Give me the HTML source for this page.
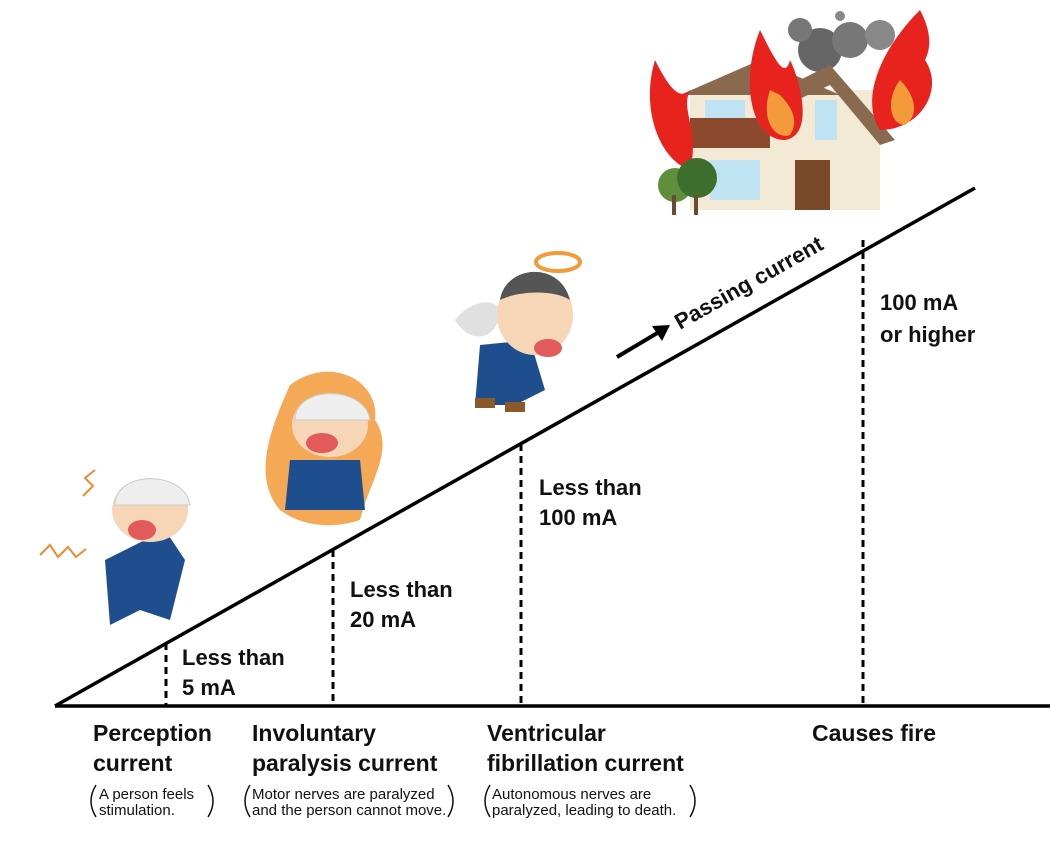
<!DOCTYPE html>
<html><head><meta charset="utf-8"><style>
body{margin:0;background:#fff;}
svg{display:block;font-family:"Liberation Sans",Arial,sans-serif;}
.l{font-size:22px;fill:#111;font-weight:bold;}
.b{font-size:23px;fill:#111;font-weight:bold;}
.s{font-size:15px;fill:#111;}
</style></head><body>
<svg width="1050" height="850" viewBox="0 0 1050 850">
<!-- house -->
<g>
<circle cx="820" cy="50" r="22" fill="#666"/><circle cx="850" cy="40" r="18" fill="#777"/><circle cx="880" cy="35" r="15" fill="#888"/><circle cx="800" cy="30" r="12" fill="#777"/><circle cx="840" cy="16" r="5" fill="#888"/>
<rect x="690" y="90" width="190" height="120" fill="#f3ead6"/>
<polygon points="680,95 760,60 840,95" fill="#8a6a4f"/>
<polygon points="760,100 830,65 895,140 880,145 830,85 775,110" fill="#8a6a4f"/>
<rect x="690" y="118" width="80" height="30" fill="#8b4a2e"/>
<rect x="705" y="100" width="40" height="18" fill="#bfe3f2"/>
<rect x="710" y="160" width="50" height="40" fill="#bfe3f2"/>
<rect x="795" y="160" width="35" height="50" fill="#7a4a2a"/>
<rect x="815" y="100" width="22" height="40" fill="#bfe3f2"/>
<path d="M655,60 C640,110 660,160 690,170 C700,130 680,110 690,90 C680,100 670,90 655,60Z" fill="#e8231e"/>
<path d="M760,30 C740,80 750,140 785,140 C815,135 800,80 790,60 C785,80 775,60 760,30Z" fill="#e8231e"/>
<path d="M770,90 C760,120 775,140 790,135 C800,120 790,105 780,95Z" fill="#f39a3a"/>
<path d="M920,10 C880,50 860,100 880,130 C920,130 945,90 925,60 C935,40 925,20 920,10Z" fill="#e8231e"/>
<path d="M900,80 C885,100 890,125 905,125 C920,115 915,95 900,80Z" fill="#f39a3a"/>
<circle cx="675" cy="185" r="17" fill="#5f8f3a"/><circle cx="697" cy="178" r="20" fill="#3e6e2c"/>
<rect x="672" y="195" width="4" height="20" fill="#6a4a30"/><rect x="694" y="195" width="4" height="20" fill="#6a4a30"/>
</g>
<!-- person 1 -->
<g>
<path d="M40,555 l10,-10 l8,12 l10,-10 l8,10 l10,-8" stroke="#f08a30" stroke-width="2" fill="none"/>
<path d="M95,470 l-10,8 l8,8 l-10,10" stroke="#f08a30" stroke-width="2" fill="none"/>
<path d="M105,560 l60,-30 l20,30 l-15,60 l-30,-10 l-30,15 Z" fill="#1f4e8f"/>
<ellipse cx="150" cy="510" rx="38" ry="32" fill="#f7d6b8"/>
<path d="M115,505 C115,470 185,470 190,505 Z" fill="#eee" stroke="#ccc"/>
<ellipse cx="142" cy="530" rx="14" ry="10" fill="#e25a5a"/>
</g>
<!-- person 2 -->
<g>
<path d="M290,385 C330,355 380,380 375,420 C395,450 370,480 360,520 C330,530 300,525 280,510 C255,480 265,440 290,385Z" fill="#f39a3a" opacity="0.85"/>
<path d="M290,460 l70,0 l5,50 l-80,0 Z" fill="#1f4e8f"/>
<ellipse cx="330" cy="425" rx="38" ry="32" fill="#f7d6b8"/>
<path d="M295,420 C295,385 365,385 370,420 Z" fill="#eee" stroke="#ccc"/>
<ellipse cx="322" cy="443" rx="16" ry="10" fill="#e25a5a"/>
</g>
<!-- person 3 -->
<g>
<ellipse cx="558" cy="262" rx="22" ry="9" fill="none" stroke="#f39a3a" stroke-width="4"/>
<path d="M455,320 C470,300 500,295 500,315 C495,340 470,345 455,320Z" fill="#e0e0e0"/>
<path d="M480,345 l50,-5 l15,50 l-30,15 l-40,0 Z" fill="#1f4e8f"/>
<ellipse cx="535" cy="315" rx="38" ry="40" fill="#f7d6b8"/>
<path d="M500,300 C505,265 560,260 570,300 C555,290 520,290 500,300Z" fill="#555"/>
<ellipse cx="548" cy="348" rx="14" ry="9" fill="#e25a5a"/>
<rect x="475" y="398" width="20" height="10" fill="#8b5a2b"/><rect x="505" y="402" width="20" height="10" fill="#8b5a2b"/>
</g>
<!-- axes -->
<line x1="55" y1="706" x2="1050" y2="706" stroke="#000" stroke-width="3.5"/>
<line x1="55" y1="706" x2="975" y2="188" stroke="#000" stroke-width="3.5"/>
<g stroke="#000" stroke-width="3" stroke-dasharray="7,5">
<line x1="166" y1="643" x2="166" y2="706"/>
<line x1="333" y1="550" x2="333" y2="706"/>
<line x1="521" y1="444" x2="521" y2="706"/>
<line x1="863" y1="240" x2="863" y2="706"/>
</g>
<line x1="617" y1="357" x2="664" y2="329" stroke="#000" stroke-width="4"/>
<polygon points="670,325 652,326 662,341" fill="#000"/>
<text class="l" transform="translate(680,330) rotate(-29.4)">Passing current</text>
<text class="l" x="182" y="665">Less than</text><text class="l" x="182" y="695">5 mA</text>
<text class="l" x="350" y="597">Less than</text><text class="l" x="350" y="627">20 mA</text>
<text class="l" x="539" y="495">Less than</text><text class="l" x="539" y="525">100 mA</text>
<text class="l" x="880" y="310">100 mA</text><text class="l" x="880" y="342">or higher</text>
<text class="b" x="93" y="741">Perception</text><text class="b" x="93" y="771">current</text>
<text class="b" x="252" y="741">Involuntary</text><text class="b" x="252" y="771">paralysis current</text>
<text class="b" x="487" y="741">Ventricular</text><text class="b" x="487" y="771">fibrillation current</text>
<text class="b" x="812" y="741">Causes fire</text>
<g fill="none" stroke="#111" stroke-width="1.5">
<path d="M96,785 Q86,801 96,817"/><path d="M208,785 Q218,801 208,817"/>
<path d="M250,785 Q240,801 250,817"/><path d="M448,785 Q458,801 448,817"/>
<path d="M490,785 Q480,801 490,817"/><path d="M690,785 Q700,801 690,817"/>
</g>
<text class="s" x="99" y="799">A person feels</text><text class="s" x="99" y="815">stimulation.</text>
<text class="s" x="252" y="799">Motor nerves are paralyzed</text><text class="s" x="252" y="815">and the person cannot move.</text>
<text class="s" x="492" y="799">Autonomous nerves are</text><text class="s" x="492" y="815">paralyzed, leading to death.</text>
</svg>
</body></html>
